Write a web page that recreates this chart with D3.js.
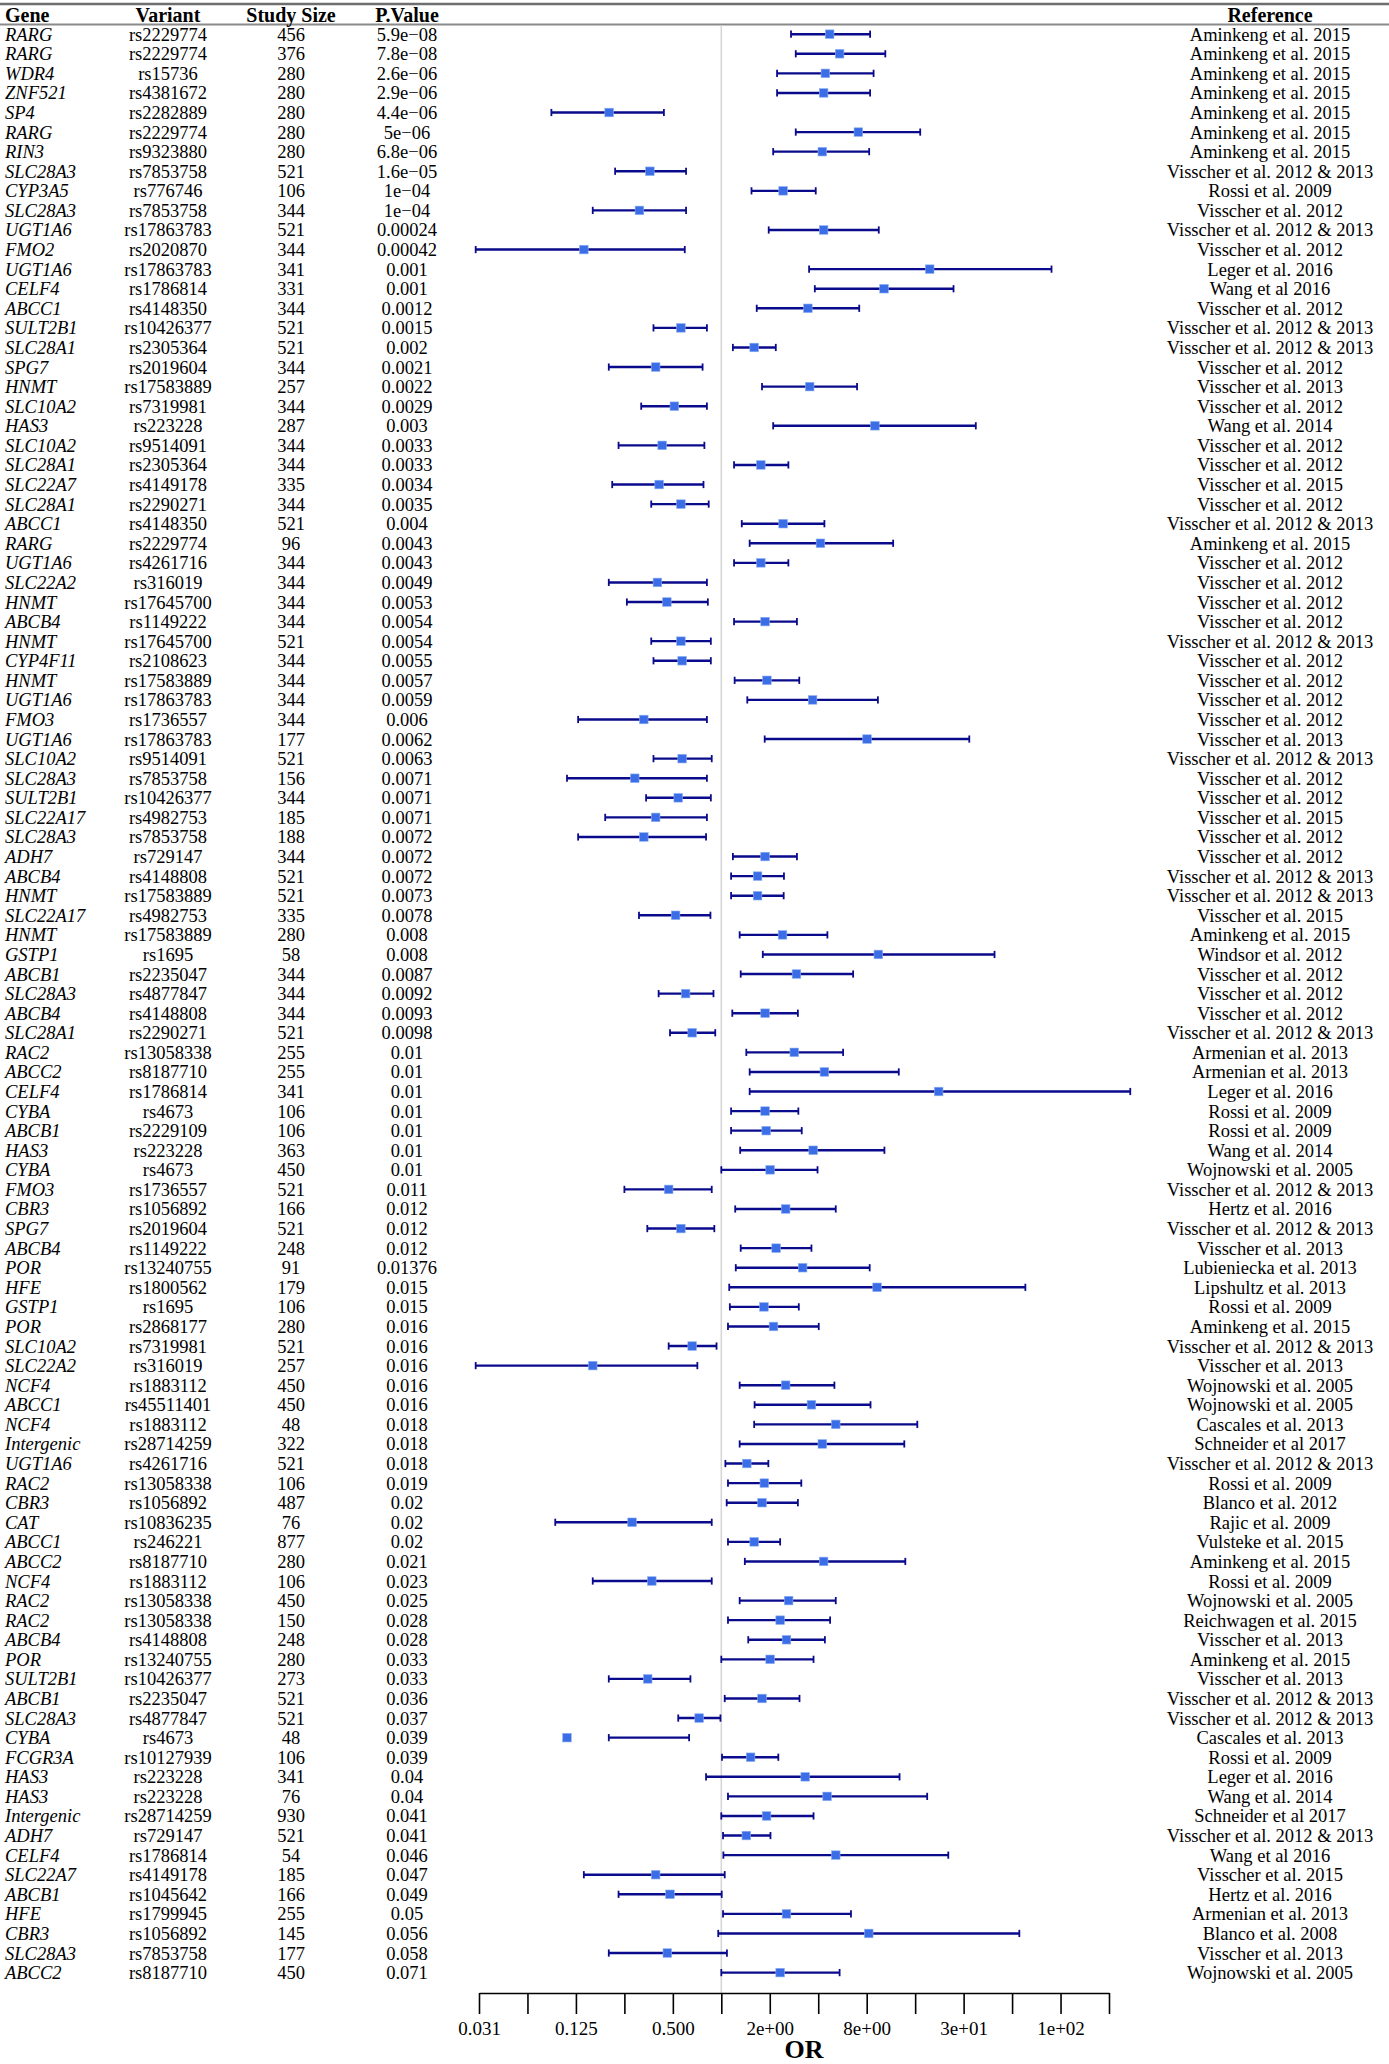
<!DOCTYPE html>
<html>
<head>
<meta charset="utf-8">
<script src="https://cdn.jsdelivr.net/npm/d3@7"></script>
<style>
  html, body { margin: 0; padding: 0; background: #fff; }
  svg { display: block; }
  text { font-family: "Liberation Serif", "Times New Roman", serif; }
</style>
</head>
<body>
<svg id="chart" width="1389" height="2064"></svg>
<script>
const genes = ["RARG","RARG","WDR4","ZNF521","SP4","RARG","RIN3","SLC28A3","CYP3A5","SLC28A3",
"UGT1A6","FMO2","UGT1A6","CELF4","ABCC1","SULT2B1","SLC28A1","SPG7","HNMT","SLC10A2",
"HAS3","SLC10A2","SLC28A1","SLC22A7","SLC28A1","ABCC1","RARG","UGT1A6","SLC22A2","HNMT",
"ABCB4","HNMT","CYP4F11","HNMT","UGT1A6","FMO3","UGT1A6","SLC10A2","SLC28A3","SULT2B1",
"SLC22A17","SLC28A3","ADH7","ABCB4","HNMT","SLC22A17","HNMT","GSTP1","ABCB1","SLC28A3",
"ABCB4","SLC28A1","RAC2","ABCC2","CELF4","CYBA","ABCB1","HAS3","CYBA","FMO3",
"CBR3","SPG7","ABCB4","POR","HFE","GSTP1","POR","SLC10A2","SLC22A2","NCF4",
"ABCC1","NCF4","Intergenic","UGT1A6","RAC2","CBR3","CAT","ABCC1","ABCC2","NCF4",
"RAC2","RAC2","ABCB4","POR","SULT2B1","ABCB1","SLC28A3","CYBA","FCGR3A","HAS3",
"HAS3","Intergenic","ADH7","CELF4","SLC22A7","ABCB1","HFE","CBR3","SLC28A3","ABCC2"];

const variants = ["rs2229774","rs2229774","rs15736","rs4381672","rs2282889","rs2229774","rs9323880","rs7853758","rs776746","rs7853758",
"rs17863783","rs2020870","rs17863783","rs1786814","rs4148350","rs10426377","rs2305364","rs2019604","rs17583889","rs7319981",
"rs223228","rs9514091","rs2305364","rs4149178","rs2290271","rs4148350","rs2229774","rs4261716","rs316019","rs17645700",
"rs1149222","rs17645700","rs2108623","rs17583889","rs17863783","rs1736557","rs17863783","rs9514091","rs7853758","rs10426377",
"rs4982753","rs7853758","rs729147","rs4148808","rs17583889","rs4982753","rs17583889","rs1695","rs2235047","rs4877847",
"rs4148808","rs2290271","rs13058338","rs8187710","rs1786814","rs4673","rs2229109","rs223228","rs4673","rs1736557",
"rs1056892","rs2019604","rs1149222","rs13240755","rs1800562","rs1695","rs2868177","rs7319981","rs316019","rs1883112",
"rs45511401","rs1883112","rs28714259","rs4261716","rs13058338","rs1056892","rs10836235","rs246221","rs8187710","rs1883112",
"rs13058338","rs13058338","rs4148808","rs13240755","rs10426377","rs2235047","rs4877847","rs4673","rs10127939","rs223228",
"rs223228","rs28714259","rs729147","rs1786814","rs4149178","rs1045642","rs1799945","rs1056892","rs7853758","rs8187710"];

const studySizes = [456,376,280,280,280,280,280,521,106,344,
521,344,341,331,344,521,521,344,257,344,
287,344,344,335,344,521,96,344,344,344,
344,521,344,344,344,344,177,521,156,344,
185,188,344,521,521,335,280,58,344,344,
344,521,255,255,341,106,106,363,450,521,
166,521,248,91,179,106,280,521,257,450,
450,48,322,521,106,487,76,877,280,106,
450,150,248,280,273,521,521,48,106,341,
76,930,521,54,185,166,255,145,177,450];

const pValues = ["5.9e\u221208","7.8e\u221208","2.6e\u221206","2.9e\u221206","4.4e\u221206","5e\u221206","6.8e\u221206","1.6e\u221205","1e\u221204","1e\u221204",
"0.00024","0.00042","0.001","0.001","0.0012","0.0015","0.002","0.0021","0.0022","0.0029",
"0.003","0.0033","0.0033","0.0034","0.0035","0.004","0.0043","0.0043","0.0049","0.0053",
"0.0054","0.0054","0.0055","0.0057","0.0059","0.006","0.0062","0.0063","0.0071","0.0071",
"0.0071","0.0072","0.0072","0.0072","0.0073","0.0078","0.008","0.008","0.0087","0.0092",
"0.0093","0.0098","0.01","0.01","0.01","0.01","0.01","0.01","0.01","0.011",
"0.012","0.012","0.012","0.01376","0.015","0.015","0.016","0.016","0.016","0.016",
"0.016","0.018","0.018","0.018","0.019","0.02","0.02","0.02","0.021","0.023",
"0.025","0.028","0.028","0.033","0.033","0.036","0.037","0.039","0.039","0.04",
"0.04","0.041","0.041","0.046","0.047","0.049","0.05","0.056","0.058","0.071"];

const A15 = "Aminkeng et al. 2015", V12 = "Visscher et al. 2012", V13 = "Visscher et al. 2013",
      V1213 = "Visscher et al. 2012 & 2013", V15 = "Visscher et al. 2015", R09 = "Rossi et al. 2009",
      W05 = "Wojnowski et al. 2005";
const references = [A15,A15,A15,A15,A15,A15,A15,V1213,R09,V12,
V1213,V12,"Leger et al. 2016","Wang et al 2016",V12,V1213,V1213,V12,V13,V12,
"Wang et al. 2014",V12,V12,V15,V12,V1213,A15,V12,V12,V12,
V12,V1213,V12,V12,V12,V12,V13,V1213,V12,V12,
V15,V12,V12,V1213,V1213,V15,A15,"Windsor et al. 2012",V12,V12,
V12,V1213,"Armenian et al. 2013","Armenian et al. 2013","Leger et al. 2016",R09,R09,"Wang et al. 2014",W05,V1213,
"Hertz et al. 2016",V1213,V13,"Lubieniecka et al. 2013","Lipshultz et al. 2013",R09,A15,V1213,V13,W05,
W05,"Cascales et al. 2013","Schneider et al 2017",V1213,R09,"Blanco et al. 2012","Rajic et al. 2009","Vulsteke et al. 2015",A15,R09,
W05,"Reichwagen et al. 2015",V13,A15,V13,V1213,V1213,"Cascales et al. 2013",R09,"Leger et al. 2016",
"Wang et al. 2014","Schneider et al 2017",V1213,"Wang et al 2016",V15,"Hertz et al. 2016","Armenian et al. 2013","Blanco et al. 2008",V13,W05];

const orEst = [4.71,5.43,4.43,4.32,0.201,7.10,4.24,0.360,2.42,0.310,
4.32,0.140,19.7,10.25,3.45,0.561,1.60,0.391,3.54,0.511,
9.0,0.429,1.76,0.411,0.561,2.42,4.13,1.76,0.401,0.459,
1.87,0.561,0.571,1.92,3.69,0.330,8.04,0.571,0.290,0.540,
0.391,0.330,1.87,1.68,1.68,0.520,2.40,9.45,2.93,0.600,
1.87,0.659,2.84,4.37,22.4,1.87,1.90,3.72,2.01,0.471,
2.51,0.561,2.19,3.20,9.28,1.84,2.11,0.659,0.159,2.51,
3.63,5.14,4.24,1.44,1.85,1.79,0.279,1.60,4.32,0.370,
2.62,2.32,2.54,2.01,0.349,1.79,0.728,0.110,1.52,3.32,
4.54,1.91,1.43,5.14,0.391,0.480,2.54,8.24,0.462,2.32];

const ciLow = [2.71,2.90,2.22,2.22,0.088,2.90,2.10,0.219,1.54,0.159,
1.97,0.0298,3.51,3.81,1.66,0.379,1.18,0.200,1.79,0.318,
2.10,0.230,1.20,0.210,0.367,1.34,1.50,1.20,0.200,0.259,
1.20,0.367,0.379,1.21,1.45,0.129,1.86,0.379,0.110,0.341,
0.190,0.129,1.18,1.15,1.15,0.308,1.30,1.81,1.32,0.408,
1.17,0.480,1.43,1.50,1.50,1.15,1.15,1.31,1.00,0.250,
1.22,0.347,1.32,1.23,1.12,1.13,1.10,0.471,0.0298,1.30,
1.61,1.60,1.30,1.06,1.10,1.08,0.093,1.10,1.40,0.159,
1.30,1.10,1.47,1.00,0.200,1.05,0.540,0.200,1.01,0.804,
1.10,1.00,1.025,1.03,0.140,0.230,1.025,0.957,0.200,1.00];

const ciHigh = [8.40,10.44,8.83,8.40,0.440,17.2,8.29,0.604,3.86,0.604,
9.51,0.593,112.5,27.7,7.19,0.814,2.18,0.765,6.97,0.814,
38.1,0.785,2.61,0.775,0.835,4.37,11.68,2.61,0.814,0.825,
2.95,0.861,0.861,3.05,9.39,0.814,34.7,0.872,0.814,0.861,
0.814,0.804,2.95,2.45,2.44,0.856,4.56,49.8,6.59,0.894,
2.99,0.917,5.71,12.66,347,3.01,3.16,10.31,3.96,0.872,
5.14,0.905,3.63,8.35,77.4,3.03,4.03,0.934,0.710,5.04,
8.45,16.5,13.7,1.96,3.14,2.99,0.872,2.32,13.9,0.872,
5.14,4.74,4.40,3.74,0.643,3.06,0.988,0.631,2.26,12.8,
19.0,3.74,2.02,25.7,1.05,1.006,6.39,71.0,1.084,5.43];

const tickExponents = [-5,-4,-3,-2,-1,0,1,2,3,4,5,6,7,8];
const tickLabels = {"-5":"0.031","-3":"0.125","-1":"0.500","1":"2e+00","3":"8e+00","5":"3e+01","7":"1e+02"};
const headers = ["Gene","Variant","Study Size","P.Value","Reference"];

const rows = genes.map((g, i) => ({
  i, gene: g, variant: variants[i], size: studySizes[i], p: pValues[i],
  ref: references[i], est: orEst[i], lo: ciLow[i], hi: ciHigh[i]
}));

const W = 1389, H = 2064;
const svg = d3.select("#chart");
svg.append("rect").attr("width", W).attr("height", H).attr("fill", "#fff");

const headerBottom = 24.4;
const axisY = 1993;
const y = d3.scaleBand().domain(d3.range(rows.length)).range([headerBottom, 1982.4]).padding(0);
const yc = i => y(i) + y.bandwidth() / 2;

const x = d3.scaleLog().base(2).domain([Math.pow(2, -5), Math.pow(2, 8)]).range([479, 1109]);

const colX = { gene: 5, variant: 168, size: 291, p: 407, ref: 1270 };

// header lines
svg.append("line").attr("x1", 0).attr("x2", W).attr("y1", 4).attr("y2", 4)
  .attr("stroke", "#6e6e6e").attr("stroke-width", 2.6);
svg.append("line").attr("x1", 0).attr("x2", W).attr("y1", headerBottom).attr("y2", headerBottom)
  .attr("stroke", "#8a8a8a").attr("stroke-width", 2);

// header texts
const hdr = svg.append("g").attr("font-weight", "bold").attr("font-size", 20).attr("fill", "#000");
hdr.append("text").attr("x", colX.gene).attr("y", 21.5).text(headers[0]);
hdr.append("text").attr("x", colX.variant).attr("y", 21.5).attr("text-anchor", "middle").text(headers[1]);
hdr.append("text").attr("x", colX.size).attr("y", 21.5).attr("text-anchor", "middle").text(headers[2]);
hdr.append("text").attr("x", colX.p).attr("y", 21.5).attr("text-anchor", "middle").text(headers[3]);
hdr.append("text").attr("x", colX.ref).attr("y", 21.5).attr("text-anchor", "middle").text(headers[4]);

// reference line at OR = 1
svg.append("line").attr("x1", x(1)).attr("x2", x(1)).attr("y1", headerBottom + 1).attr("y2", axisY)
  .attr("stroke", "#d6d6d6").attr("stroke-width", 1.6);

// table text
const fs = 18.5;
const tbl = svg.append("g").attr("font-size", fs).attr("fill", "#000");
const rowG = tbl.selectAll("g.row").data(rows).join("g").attr("class", "row")
  .attr("transform", d => `translate(0,${yc(d.i) + 6.5})`);
rowG.append("text").attr("x", colX.gene).attr("font-style", "italic").text(d => d.gene);
rowG.append("text").attr("x", colX.variant).attr("text-anchor", "middle").text(d => d.variant);
rowG.append("text").attr("x", colX.size).attr("text-anchor", "middle").text(d => d.size);
rowG.append("text").attr("x", colX.p).attr("text-anchor", "middle").text(d => d.p);
rowG.append("text").attr("x", colX.ref).attr("text-anchor", "middle").text(d => d.ref);

// forest marks
const ciColor = "#0a0a8c", ptColor = "#3b6ee6";
const marks = svg.append("g");
const mg = marks.selectAll("g.m").data(rows).join("g").attr("class", "m");
mg.append("line").attr("x1", d => x(d.lo)).attr("x2", d => x(d.hi))
  .attr("y1", d => yc(d.i)).attr("y2", d => yc(d.i))
  .attr("stroke", ciColor).attr("stroke-width", 2.4);
mg.append("line").attr("x1", d => x(d.lo)).attr("x2", d => x(d.lo))
  .attr("y1", d => yc(d.i) - 3.6).attr("y2", d => yc(d.i) + 3.6)
  .attr("stroke", ciColor).attr("stroke-width", 1.8);
mg.append("line").attr("x1", d => x(d.hi)).attr("x2", d => x(d.hi))
  .attr("y1", d => yc(d.i) - 3.6).attr("y2", d => yc(d.i) + 3.6)
  .attr("stroke", ciColor).attr("stroke-width", 1.8);
mg.append("rect").attr("x", d => x(d.est) - 4.3).attr("y", d => yc(d.i) - 4.3)
  .attr("width", 8.6).attr("height", 8.6).attr("fill", ptColor)
  .attr("stroke", "#8fb0f2").attr("stroke-width", 0.6);

// axis
const axis = d3.axisBottom(x)
  .tickValues(tickExponents.map(e => Math.pow(2, e)))
  .tickFormat((v) => { const e = Math.round(Math.log2(v)); return tickLabels[String(e)] || ""; })
  .tickSize(21).tickSizeOuter(0).tickPadding(8);
const ax = svg.append("g").attr("transform", `translate(0,${axisY})`).call(axis);
ax.select(".domain").attr("stroke", "#000").attr("stroke-width", 1.6);
ax.selectAll(".tick line").attr("stroke", "#000").attr("stroke-width", 1.6);
ax.selectAll(".tick text").attr("font-family", "Liberation Serif, serif").attr("font-size", 19).attr("fill", "#000");

svg.append("text").attr("x", 804).attr("y", 2058).attr("text-anchor", "middle")
  .attr("font-weight", "bold").attr("font-size", 26).text("OR");
</script>
</body>
</html>
